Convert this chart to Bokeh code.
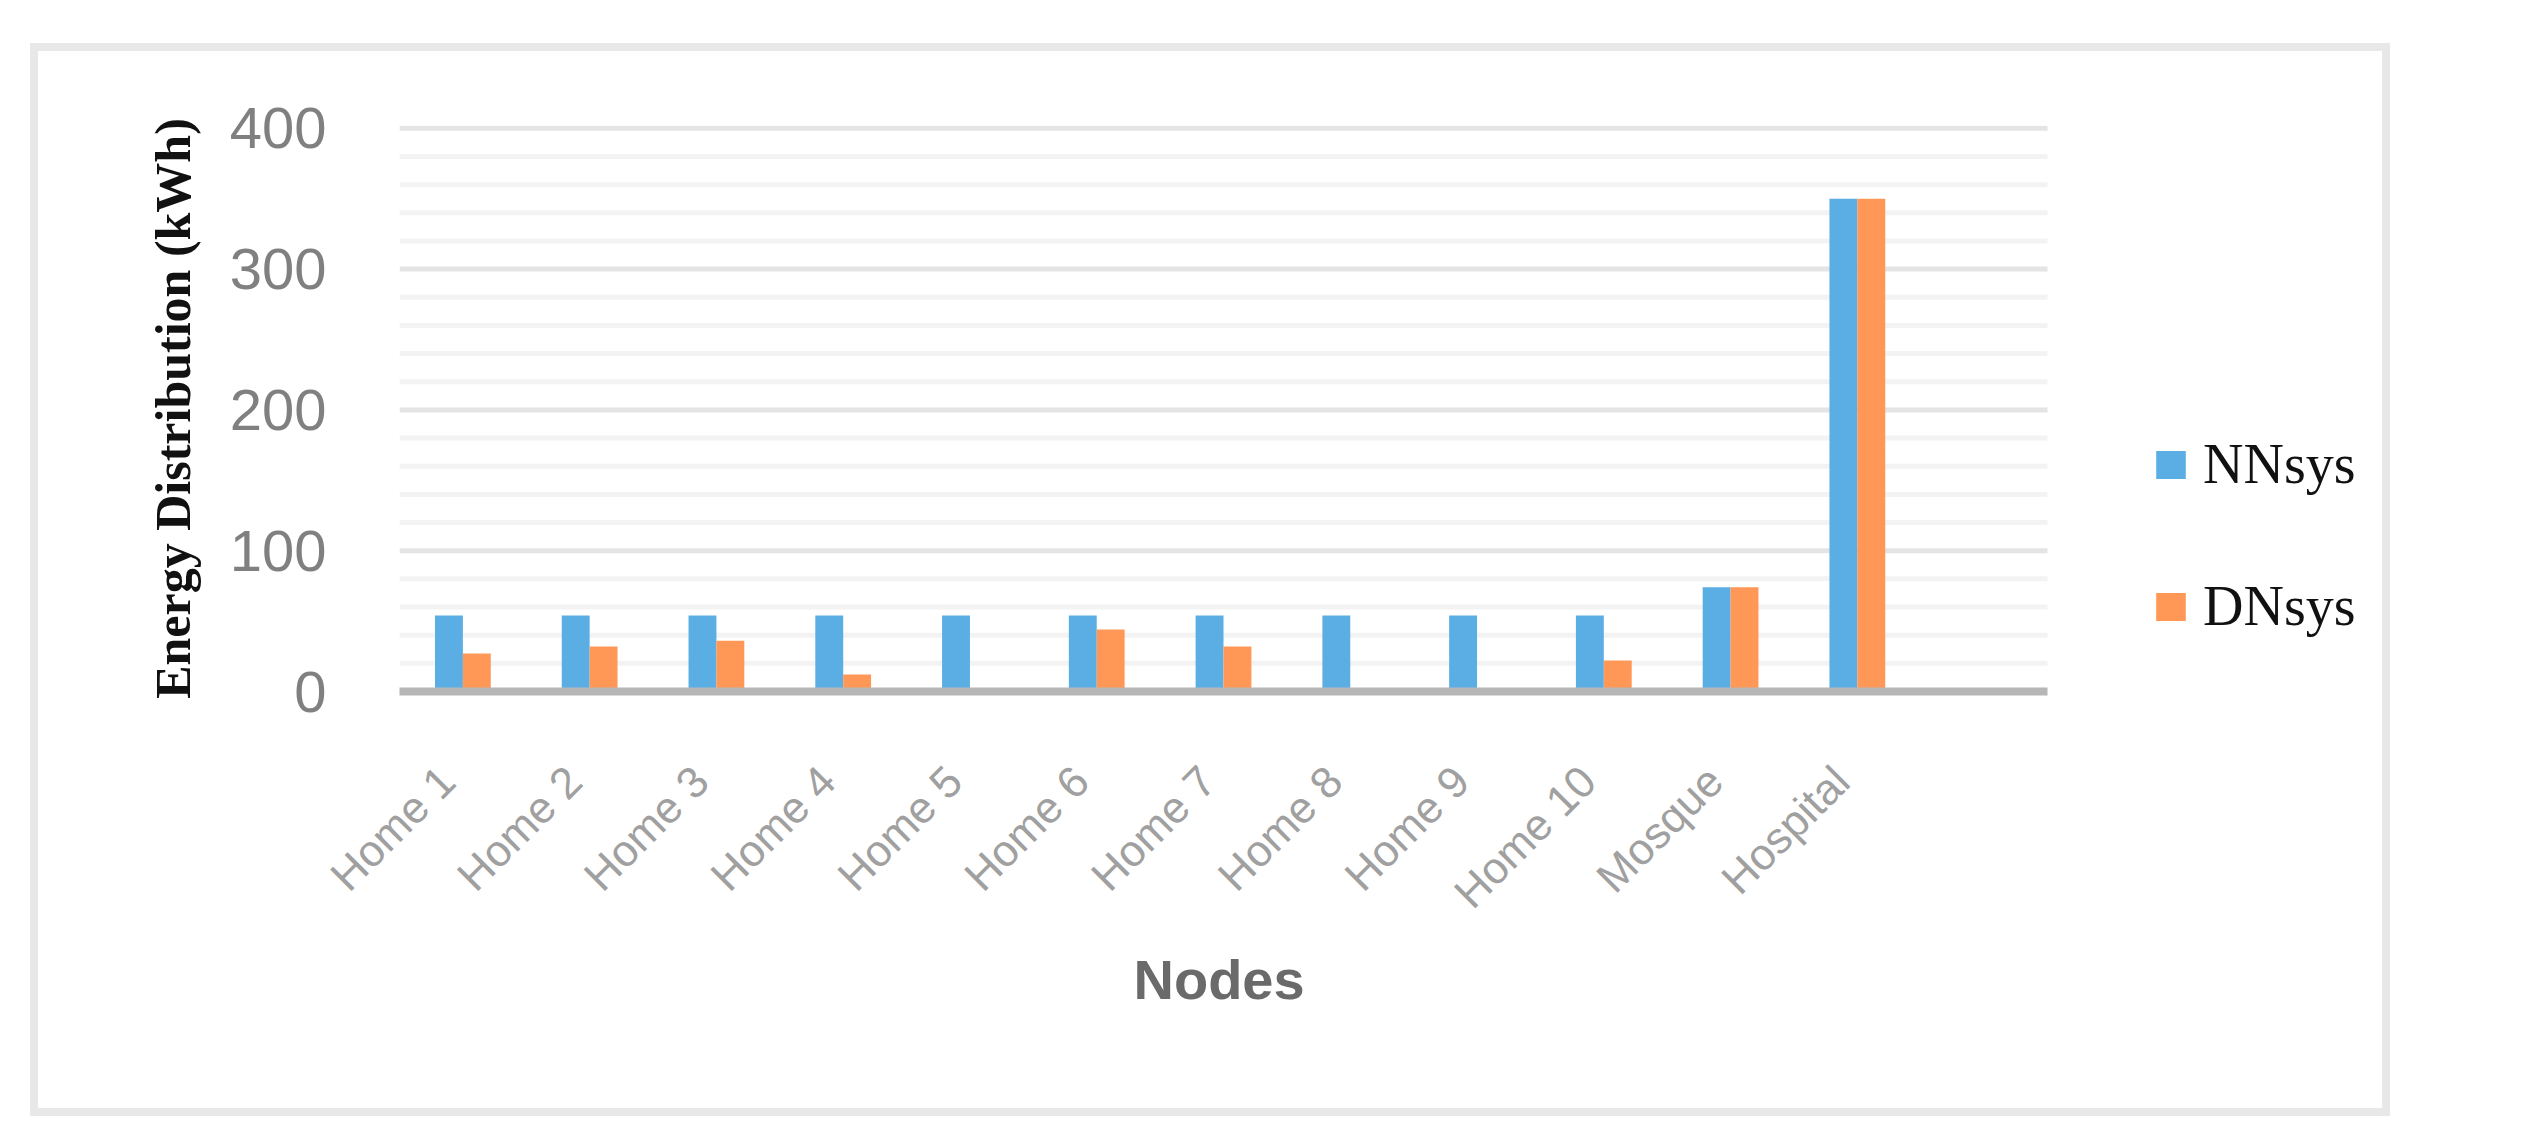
import math
from bokeh.plotting import figure
from bokeh.layouts import column
from bokeh.models import (Range1d, SingleIntervalTicker, FixedTicker, Legend,
                          LegendItem, ColumnDataSource, Title)
from bokeh.transform import dodge
from bokeh.embed import file_html
from bokeh.resources import INLINE

# ---- data ----
categories = ["Home 1", "Home 2", "Home 3", "Home 4", "Home 5", "Home 6",
              "Home 7", "Home 8", "Home 9", "Home 10", "Mosque", "Hospital"]
nnsys = [54, 54, 54, 54, 54, 54, 54, 54, 54, 54, 74, 350]
dnsys = [27, 32, 36, 12, 0, 44, 32, 0, 0, 22, 74, 350]
series_names = ["NNsys", "DNsys"]
y_ticks = [0, 100, 200, 300, 400]
minor_step = 20

n = len(categories)
positions = list(range(1, n + 1))
src = ColumnDataSource(dict(x=positions, nn=nnsys, dn=dnsys))

# plotting region spans n+1 slots (an empty slot after the last category);
# the frame itself extends further right to host the legend.
x_lo, x_hi = 0.5, n + 1.5
FRAME_PLOT_W = 1648
FRAME_W = 1983
x_end = x_lo + (x_hi - x_lo) * FRAME_W / FRAME_PLOT_W

p = figure(frame_width=FRAME_W, frame_height=566,
           x_range=Range1d(x_lo, x_end),
           y_range=Range1d(y_ticks[0], y_ticks[-1] + 2),
           output_backend="svg", toolbar_location=None,
           min_border_left=361, min_border_right=0,
           min_border_top=74, min_border_bottom=417)
p.outline_line_color = None
p.background_fill_color = "white"
p.border_fill_color = "white"

# horizontal grid lines, limited to the plotting region
minor_vals = [v for v in range(y_ticks[0] + minor_step, y_ticks[-1], minor_step)
              if v not in y_ticks]
p.segment(x0=[x_lo] * len(minor_vals), x1=[x_hi] * len(minor_vals),
          y0=minor_vals, y1=minor_vals, line_color="#f3f3f3", line_width=5)
major_vals = y_ticks[1:]
p.segment(x0=[x_lo] * len(major_vals), x1=[x_hi] * len(major_vals),
          y0=major_vals, y1=major_vals, line_color="#e4e4e4", line_width=5)

r1 = p.vbar(x=dodge("x", -0.11), top="nn", width=0.22, source=src,
            fill_color="#5aaee4", line_color=None)
r2 = p.vbar(x=dodge("x", 0.11), top="dn", width=0.22, source=src,
            fill_color="#ff9856", line_color=None)

p.xgrid.grid_line_color = None
p.ygrid.grid_line_color = None

# y axis
p.yaxis.ticker = SingleIntervalTicker(interval=100)
p.yaxis.axis_line_color = None
p.yaxis.major_tick_line_color = None
p.yaxis.minor_tick_line_color = None
p.yaxis.major_label_text_font = "Liberation Sans"
p.yaxis.major_label_text_font_size = "58px"
p.yaxis.major_label_text_color = "#808080"
p.yaxis.major_label_standoff = 67
p.yaxis.axis_label = "Energy Distribution (kWh)"
p.yaxis.axis_label_text_font = "Liberation Serif"
p.yaxis.axis_label_text_font_style = "bold"
p.yaxis.axis_label_text_font_size = "50px"
p.yaxis.axis_label_text_color = "#111111"
p.yaxis.axis_label_standoff = 26

# x axis (labels anchored slightly left of each category centre)
label_shift = 0.125
label_ticks = [x - label_shift for x in positions]
p.xaxis.bounds = (x_lo, x_hi)
p.xaxis.ticker = FixedTicker(ticks=label_ticks)
p.xaxis.major_label_overrides = {t: c for t, c in zip(label_ticks, categories)}
p.xaxis.major_label_orientation = math.pi / 4
p.xaxis.major_label_text_font = "Liberation Sans"
p.xaxis.major_label_text_font_size = "44px"
p.xaxis.major_label_text_color = "#a0a0a0"
p.xaxis.major_label_standoff = 76
p.xaxis.axis_line_color = "#b6b6b6"
p.xaxis.axis_line_width = 8
p.xaxis.major_tick_line_color = None
p.xaxis.minor_tick_line_color = None

# x axis title, centred on the plotting region (not on the wider frame)
nodes_title = Title(text="Nodes", align="left", offset=734, standoff=16,
                    text_font="Liberation Sans", text_font_style="bold",
                    text_font_size="56px", text_color="#6a6a6a")
p.add_layout(nodes_title, "below")

legend = Legend(items=[LegendItem(label=series_names[0], renderers=[r1]),
                       LegendItem(label=series_names[1], renderers=[r2])],
                location=(1753, 53))
legend.padding = 0
legend.margin = 0
legend.border_line_color = None
legend.background_fill_alpha = 0
legend.glyph_width = 37
legend.glyph_height = 35
legend.label_height = 60
legend.spacing = 78
legend.label_standoff = 14
legend.label_text_font = "Liberation Serif"
legend.label_text_font_size = "56px"
legend.label_text_color = "#111111"
p.add_layout(legend)

page = column(p, width=2344, height=1057, sizing_mode="fixed",
              margin=(51, 0, 0, 38),
              styles={"outline": "8px solid #e8e8e8", "overflow": "hidden",
                      "background-color": "white"})

open("out.html", "w").write(file_html(page, INLINE))
